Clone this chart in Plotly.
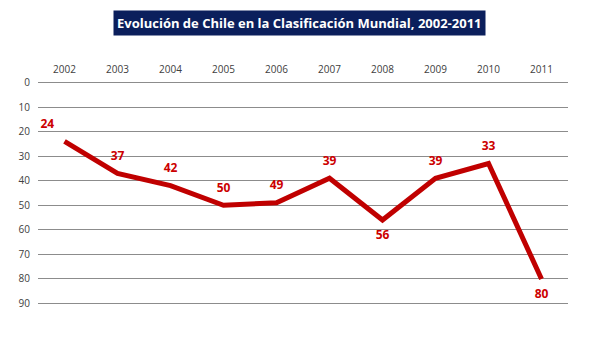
import plotly.graph_objects as go

years = ["2002", "2003", "2004", "2005", "2006", "2007", "2008", "2009", "2010", "2011"]
ranking = [24, 37, 42, 50, 49, 39, 56, 39, 33, 80]
label_pos = ["top left", "top center", "top center", "top center", "top center",
             "top center", "bottom center", "top center", "top center", "bottom center"]
y_ticks = [0, 10, 20, 30, 40, 50, 60, 70, 80, 90]

title_text = "Evolución de Chile en la Clasificación Mundial, 2002-2011"

fig = go.Figure()
fig.add_trace(go.Scatter(
    x=years, y=ranking, mode="lines+markers+text",
    line=dict(color="#C00000", width=5),
    marker=dict(size=15, color="rgba(0,0,0,0)"),
    text=[str(v) for v in ranking],
    textposition=label_pos,
    textfont=dict(family="Open Sans", size=12, color="#CC0000", weight="bold"),
    cliponaxis=False,
    hoverinfo="skip",
))

fig.update_layout(
    width=600, height=359,
    margin=dict(l=30, r=40, t=72, b=61),
    paper_bgcolor="white", plot_bgcolor="white",
    showlegend=False,
    font=dict(family="Open Sans", size=10, color="#404040"),
    xaxis=dict(
        type="category", side="top", range=[-0.5, 9.5], automargin=False,
        showgrid=False, zeroline=False, showline=False,
        ticks="outside", ticklen=2, tickcolor="rgba(0,0,0,0)",
        tickfont=dict(size=10, color="#404040"),
    ),
    yaxis=dict(
        range=[91, -1], tickvals=y_ticks, ticktext=[str(v) for v in y_ticks],
        automargin=False,
        showgrid=True, gridcolor="#8C8C8C", gridwidth=1,
        zeroline=False, showline=False,
        ticks="outside", ticklen=5, tickcolor="rgba(0,0,0,0)",
        tickfont=dict(size=10, color="#404040"),
    ),
    annotations=[dict(
        text="<b>" + title_text + "</b>",
        xref="paper", yref="paper", x=0.494, y=1.0, yshift=57,
        xanchor="center", yanchor="middle", showarrow=False,
        font=dict(family="Open Sans", size=13, color="white"),
        bgcolor="#0B1F5C", borderpad=3,
    )],
)

fig.write_html("out.html")
